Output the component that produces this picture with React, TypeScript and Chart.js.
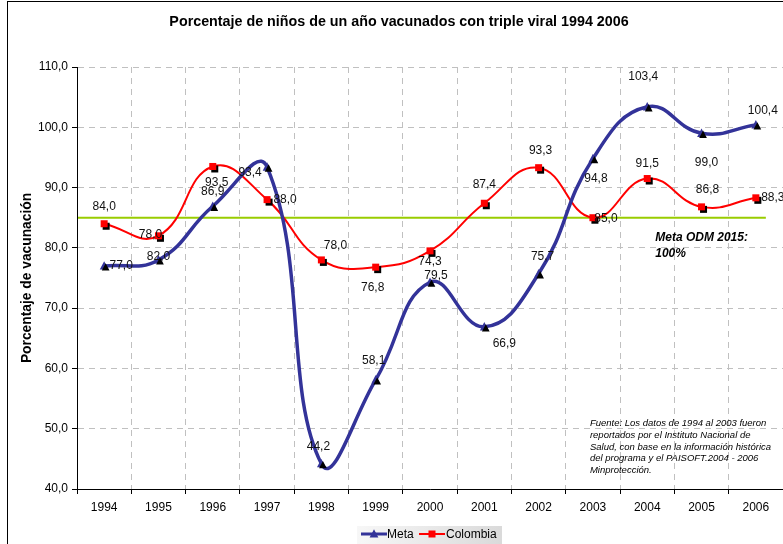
import React, { useEffect, useRef } from "react";
import { Chart, registerables } from "chart.js";

Chart.register(...registerables);

// ---------- data ----------
const YEARS = ["1994", "1995", "1996", "1997", "1998", "1999", "2000", "2001", "2002", "2003", "2004", "2005", "2006"];
const META = [77.0, 78.0, 86.9, 93.4, 44.2, 58.1, 74.3, 66.9, 75.7, 94.8, 103.4, 99.0, 100.4];
const COLOMBIA = [84.0, 82.0, 93.5, 88.0, 78.0, 76.8, 79.5, 87.4, 93.3, 85.0, 91.5, 86.8, 88.3];
const TARGET = 85;
const Y_MIN = 40;
const Y_MAX = 110;
const Y_STEP = 10;

const TITLE = "Porcentaje de niños de un año vacunados con triple viral 1994 2006";
const Y_TITLE = "Porcentaje de vacunación";
const TARGET_NOTE = ["Meta ODM 2015:", "100%"];
const SOURCE_NOTE = [
  "Fuente: Los datos de 1994 al 2003 fueron",
  "reportados por el Instituto Nacional de",
  "Salud, con base en la información histórica",
  "del programa y el PAISOFT.2004 - 2006",
  "Minprotección.",
];

// label placement offsets (px) relative to each point
const META_LABEL_OFFSETS: [number, number][] = [
  [17, 0], [-8, -25], [0, -15], [-17, 6], [-3, -17], [-2, -19], [0, -21],
  [20, 17], [4, -17], [3, 20], [-4, -30], [5, 29], [7, -14],
];
const COL_LABEL_OFFSETS: [number, number][] = [
  [0, -17], [0, 21], [4, 16], [18, 0], [14, -14], [-3, 21], [6, 25],
  [0, -19], [2, -17], [13, 1], [0, -15], [6, -17], [17, 0],
];

const FONT = "'Liberation Sans', Arial, Helvetica, sans-serif";
const META_COLOR = "#333399";
const COL_COLOR = "#ff0000";

const fmt = (v: number) => v.toFixed(1).replace(".", ",");

function drawTriangle(ctx: CanvasRenderingContext2D, x: number, y: number, s: number, color: string) {
  ctx.fillStyle = color;
  ctx.beginPath();
  ctx.moveTo(x, y - s * 0.6);
  ctx.lineTo(x + s * 0.55, y + s * 0.45);
  ctx.lineTo(x - s * 0.55, y + s * 0.45);
  ctx.closePath();
  ctx.fill();
}

function drawSquare(ctx: CanvasRenderingContext2D, x: number, y: number, s: number, color: string) {
  ctx.fillStyle = color;
  ctx.fillRect(x - s / 2, y - s / 2, s, s);
}

const overlayPlugin = {
  id: "overlay",
  beforeDatasetsDraw(chart: any) {
    const { ctx, chartArea, scales } = chart;
    const yy = scales.y.getPixelForValue(TARGET);
    const xEnd = scales.x.getPixelForValue(YEARS.length - 1) + 10;
    ctx.save();
    ctx.strokeStyle = "#99cc00";
    ctx.lineWidth = 2;
    ctx.beginPath();
    ctx.moveTo(chartArea.left + 1, yy);
    ctx.lineTo(xEnd, yy);
    ctx.stroke();
    ctx.restore();
  },
  afterDatasetsDraw(chart: any) {
    const { ctx } = chart;
    const metaPts = chart.getDatasetMeta(0).data;
    const colPts = chart.getDatasetMeta(1).data;
    ctx.save();
    // markers
    metaPts.forEach((p: any) => {
      drawTriangle(ctx, p.x, p.y, 8, META_COLOR);
      drawTriangle(ctx, p.x + 1.5, p.y + 1.5, 7, "#000");
    });
    colPts.forEach((p: any) => {
      drawSquare(ctx, p.x + 2, p.y + 2.5, 7, "#000");
      drawSquare(ctx, p.x, p.y, 7, COL_COLOR);
    });
    // value labels
    ctx.font = `12px ${FONT}`;
    ctx.fillStyle = "#111";
    ctx.textAlign = "center";
    ctx.textBaseline = "middle";
    metaPts.forEach((p: any, i: number) => {
      const [dx, dy] = META_LABEL_OFFSETS[i];
      ctx.fillText(fmt(META[i]), p.x + dx, p.y + dy);
    });
    colPts.forEach((p: any, i: number) => {
      const [dx, dy] = COL_LABEL_OFFSETS[i];
      ctx.fillText(fmt(COLOMBIA[i]), p.x + dx, p.y + dy);
    });
    ctx.restore();
  },
  afterDraw(chart: any) {
    const { ctx, scales } = chart;
    ctx.save();
    // title
    ctx.fillStyle = "#000";
    ctx.font = `bold 14.3px ${FONT}`;
    ctx.textAlign = "center";
    ctx.textBaseline = "middle";
    ctx.fillText(TITLE, 399, 22);

    // target note
    ctx.font = `italic bold 12px ${FONT}`;
    ctx.textAlign = "left";
    const nx = scales.x.getPixelForValue(10) + 8;
    const ny = scales.y.getPixelForValue(TARGET) + 20;
    TARGET_NOTE.forEach((t, i) => ctx.fillText(t, nx, ny + i * 15.5));

    // source note
    ctx.font = `italic 9.5px ${FONT}`;
    const sx = scales.x.getPixelForValue(9) - 3;
    const sy = scales.y.getPixelForValue(50) - 5;
    SOURCE_NOTE.forEach((t, i) => ctx.fillText(t, sx, sy + i * 11.7));

    // legend
    const ly = 534;
    const grad = ctx.createLinearGradient(357, 0, 502, 0);
    grad.addColorStop(0, "#f7f7f7");
    grad.addColorStop(1, "#dadada");
    ctx.fillStyle = grad;
    ctx.fillRect(357, 526, 145, 18);
    ctx.lineWidth = 3;
    ctx.strokeStyle = META_COLOR;
    ctx.beginPath();
    ctx.moveTo(361, ly);
    ctx.lineTo(387, ly);
    ctx.stroke();
    drawTriangle(ctx, 374, ly, 8, META_COLOR);
    ctx.lineWidth = 2;
    ctx.strokeStyle = COL_COLOR;
    ctx.beginPath();
    ctx.moveTo(419, ly);
    ctx.lineTo(445, ly);
    ctx.stroke();
    drawSquare(ctx, 432, ly, 7, COL_COLOR);
    ctx.fillStyle = "#000";
    ctx.font = `12px ${FONT}`;
    ctx.textAlign = "left";
    ctx.fillText("Meta", 387, ly + 1);
    ctx.fillText("Colombia", 446, ly + 1);

    // outer border
    ctx.strokeStyle = "#000";
    ctx.lineWidth = 1;
    ctx.strokeRect(7.5, 1.5, 1000, 1000);
    ctx.restore();
  },
};

export default function App() {
  const canvasRef = useRef<HTMLCanvasElement | null>(null);

  useEffect(() => {
    if (!canvasRef.current) return;
    Chart.defaults.font.family = FONT;
    const chart = new Chart(canvasRef.current, {
      type: "line",
      data: {
        labels: YEARS,
        datasets: [
          {
            label: "Meta",
            data: META,
            borderColor: META_COLOR,
            backgroundColor: META_COLOR,
            borderWidth: 3.5,
            tension: 0.45,
            pointRadius: 0,
            fill: false,
          },
          {
            label: "Colombia",
            data: COLOMBIA,
            borderColor: COL_COLOR,
            backgroundColor: COL_COLOR,
            borderWidth: 2,
            tension: 0.45,
            pointRadius: 0,
            fill: false,
          },
        ],
      },
      options: {
        responsive: false,
        animation: false,
        devicePixelRatio: 1,
        layout: { padding: { top: 67, right: 0, bottom: 0, left: 0 } },
        plugins: {
          legend: { display: false },
          title: { display: false },
          tooltip: { enabled: false },
        },
        scales: {
          x: {
            type: "category",
            offset: true,
            grid: {
              offset: true,
              color: "#c0c0c0",
              lineWidth: 1,
              tickColor: "#000",
              tickLength: 5,
              borderDash: [6, 5],
              tickBorderDash: [],
            } as any,
            border: { color: "#000", width: 1, dash: [6, 5] },
            ticks: { color: "#000", font: { size: 12, family: FONT }, padding: 6, maxRotation: 0 },
            afterFit: (s: any) => {
              s.height = 55;
            },
          },
          y: {
            min: Y_MIN,
            max: Y_MAX,
            grid: {
              color: "#c0c0c0",
              lineWidth: 1,
              tickColor: "#000",
              tickLength: 5,
              borderDash: [6, 5],
              tickBorderDash: [],
            } as any,
            border: { color: "#000", width: 1, dash: [6, 5] },
            ticks: {
              stepSize: Y_STEP,
              color: "#000",
              font: { size: 12, family: FONT },
              padding: 4,
              callback: (v: any) => fmt(Number(v)),
            },
            title: {
              display: true,
              text: Y_TITLE,
              color: "#000",
              font: { size: 13.8, weight: "bold", family: FONT },
              padding: { top: 19, bottom: 0 },
            },
            afterFit: (s: any) => {
              s.width = 77;
            },
          },
        },
      },
      plugins: [overlayPlugin],
    });
    return () => chart.destroy();
  }, []);

  return (
    <div style={{ position: "absolute", left: 0, top: 0, width: 783, height: 544, background: "#fff" }}>
      <canvas ref={canvasRef} width={783} height={544} style={{ display: "block" }} />
    </div>
  );
}
